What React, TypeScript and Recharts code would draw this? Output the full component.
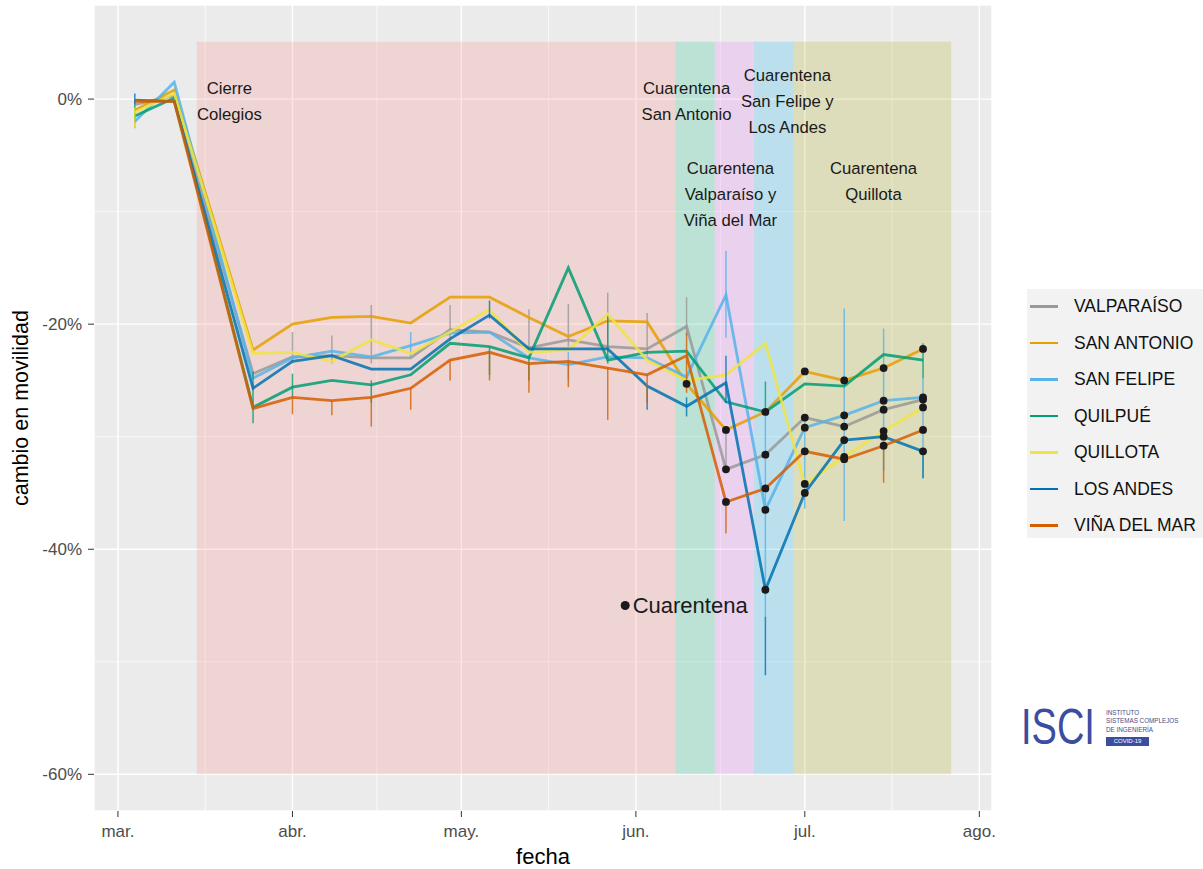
import React from "react";
import {
  ComposedChart,
  Line,
  XAxis,
  YAxis,
  CartesianGrid,
  ReferenceArea,
  ReferenceDot,
  ErrorBar,
} from "recharts";

// days are counted from 1 March 2020
const DAY0 = Date.UTC(2020, 2, 1);
const toDay = (iso: string) => (Date.parse(iso) - DAY0) / 86400000;

const weeks = [
  "2020-03-04", "2020-03-11", "2020-03-18", "2020-03-25", "2020-04-01",
  "2020-04-08", "2020-04-15", "2020-04-22", "2020-04-29", "2020-05-06",
  "2020-05-13", "2020-05-20", "2020-05-27", "2020-06-03", "2020-06-10",
  "2020-06-17", "2020-06-24", "2020-07-01", "2020-07-08", "2020-07-15",
  "2020-07-22",
];

const monthTicks = ["2020-03-01", "2020-04-01", "2020-05-01", "2020-06-01", "2020-07-01", "2020-08-01"];
const monthLabels = ["mar.", "abr.", "may.", "jun.", "jul.", "ago."];
const pctTicks = [0, -20, -40, -60];
const pctMinor = [-10, -30, -50];

type Range = [number, number] | null;
const _ = null;

const valparaiso = [-0.5, 0.3, _, -24.4, -22.9, -22.8, -23.0, -23.0, -20.5, -20.7, -22.1, -21.4, -22.0, -22.2, -20.2, -32.9, -31.6, -28.3, -29.1, -27.6, -26.7];
const sanAntonio = [-1.0, 0.8, _, -22.3, -20.0, -19.4, -19.3, -19.9, -17.6, -17.6, -19.4, -21.1, -19.7, -19.8, -25.3, -29.4, -27.8, -24.2, -25.0, -23.9, -22.2];
const sanFelipe = [-2.0, 1.5, _, -24.8, -23.0, -22.4, -22.9, -21.9, -20.8, -20.7, -23.0, -23.6, -22.9, -23.0, -24.7, -17.4, -36.5, -29.2, -28.1, -26.8, -26.5];
const quilpue = [-1.5, 0.1, _, -27.4, -25.6, -25.0, -25.4, -24.5, -21.7, -22.0, -23.0, -15.0, -23.2, -22.5, -22.4, -26.9, -27.8, -25.3, -25.5, -22.7, -23.2];
const quillota = [-1.2, 0.5, _, -22.6, -22.5, -23.3, -21.4, -22.6, -20.7, -18.7, -22.5, -22.3, -19.1, -23.2, -25.0, -24.5, -21.7, -34.2, -31.8, -29.5, -27.4];
const losAndes = [-0.1, -0.2, _, -25.7, -23.3, -22.8, -24.0, -24.0, -21.3, -19.2, -22.2, -22.2, -22.2, -25.5, -27.3, -25.2, -43.6, -35.0, -30.3, -30.0, -31.3];
const vinaDelMar = [-0.2, -0.2, _, -27.5, -26.5, -26.8, -26.5, -25.7, -23.2, -22.5, -23.5, -23.3, -23.9, -24.5, -22.8, -35.8, -34.6, -31.3, -32.0, -30.8, -29.4];

// weekly min / max (vertical ranges)
const valparaisoRange: Range[] = [_, _, _, _, [-23.5, -20.7], [-23.5, -21.0], [-23.5, -18.3], _, [-21.5, -18.3], _, [-22.5, -18.7], [-22.0, -18.2], [-22.5, -17.2], [-22.8, -19.0], [-21.0, -17.6], [-33.0, -29.5], _, _, _, _, _];
const sanAntonioRange: Range[] = [[-2.6, -1.0], _, _, _, _, _, _, _, _, _, _, _, _, _, _, _, _, _, _, _, _];
const sanFelipeRange: Range[] = [_, _, _, _, _, _, _, [-23.0, -20.7], _, _, _, [-25.0, -22.5], _, _, _, [-21.2, -13.5], [-46.0, -28.0], [-36.4, -28.5], [-37.5, -18.6], [-33.0, -20.4], [-33.7, -24.8]];
const quilpueRange: Range[] = [[-2.1, -0.1], _, _, [-28.8, -24.2], [-26.5, -24.4], _, [-27.0, -25.0], _, _, [-24.5, -22.0], [-25.0, -22.8], _, [-23.5, -19.2], _, _, _, [-28.0, -25.1], _, _, _, [-24.8, -21.7]];
const quillotaRange: Range[] = [[-2.5, -0.8], _, _, _, _, _, _, _, _, _, _, _, _, _, _, _, _, _, _, _, _];
const losAndesRange: Range[] = [[-0.4, 0.5], _, _, _, _, _, _, _, _, [-19.5, -17.9], _, _, _, [-27.6, -25.5], [-28.2, -26.5], [-27.0, -22.8], [-51.2, -46.0], _, _, _, [-33.7, -31.3]];
const vinaDelMarRange: Range[] = [_, _, _, _, [-28.0, -26.5], [-28.1, -26.8], [-29.1, -26.5], [-27.6, -25.7], [-25.0, -23.2], [-25.0, -22.5], [-26.1, -23.5], [-25.6, -23.3], [-28.5, -23.9], [-27.0, -24.5], [-26.1, -20.8], [-38.6, -35.8], _, _, _, [-34.1, -30.8], _];

const seriesNames = ["VALPARAÍSO", "SAN ANTONIO", "SAN FELIPE", "QUILPUÉ", "QUILLOTA", "LOS ANDES", "VIÑA DEL MAR"];
const seriesColors = ["#999999", "#E69F00", "#56B4E9", "#009E73", "#F0E442", "#0072B2", "#D55E00"];
// first week drawn with the black "Cuarentena" marker
const quarantineFrom = ["2020-06-17", "2020-06-10", "2020-06-24", null, "2020-07-01", "2020-06-24", "2020-06-17"];

const periodStart = ["2020-03-15", "2020-06-08", "2020-06-15", "2020-06-22", "2020-06-29"];
const periodEnd = ["2020-06-08", "2020-06-15", "2020-06-22", "2020-06-29", "2020-07-27"];
const periodFill = ["#F8766D", "#00BF7D", "#E76BF3", "#00B0F6", "#A3A500"];
const periodTop = 5.1;
const periodBottom = -60;

const notes = [
  { day: 19.8, y: -0.25, lines: ["Cierre", "Colegios"] },
  { day: 101.0, y: -0.25, lines: ["Cuarentena", "San Antonio"] },
  { day: 118.9, y: -0.2, lines: ["Cuarentena", "San Felipe y", "Los Andes"] },
  { day: 108.8, y: -8.5, lines: ["Cuarentena", "Valparaíso y", "Viña del Mar"] },
  { day: 134.2, y: -7.3, lines: ["Cuarentena", "Quillota"] },
];
const markerKey = { day: 90.1, y: -45, text: "Cuarentena" };

const values = [valparaiso, sanAntonio, sanFelipe, quilpue, quillota, losAndes, vinaDelMar];
const ranges = [valparaisoRange, sanAntonioRange, sanFelipeRange, quilpueRange, quillotaRange, losAndesRange, vinaDelMarRange];

const series = seriesNames.map((name, i) => ({
  key: "s" + i,
  name,
  color: seriesColors[i],
  from: quarantineFrom[i] ? toDay(quarantineFrom[i] as string) : null,
}));

const rows = weeks.map((w, i) => {
  const row: Record<string, any> = { day: toDay(w) };
  series.forEach((s, j) => {
    const v = values[j][i];
    const r = ranges[j][i];
    row[s.key] = v;
    row[s.key + "err"] = r && v != null ? [v - r[0], r[1] - v] : null;
  });
  return row;
});

const xMajor = monthTicks.map(toDay);
const xMinor = xMajor.slice(1).map((d, i) => (d + xMajor[i]) / 2);

const FONT = '"Liberation Sans", Arial, sans-serif';

const quarantineDot = (key: string, from: number) => (p: any) => {
  const { cx, cy, payload, index } = p;
  if (cy == null || payload == null || payload.day < from) return <g key={key + index} />;
  return <circle key={key + index} cx={cx} cy={cy} r={3.9} fill="#1b191b" />;
};

function NoteLabel({ viewBox, lines }: any) {
  const cx = viewBox.x + viewBox.width / 2;
  const cy = viewBox.y + viewBox.height / 2;
  return (
    <text textAnchor="middle" fontSize={16.7} fill="#1a1a1a" fontFamily={FONT}>
      {lines.map((l: string, j: number) => (
        <tspan key={j} x={cx} y={cy + (j - (lines.length - 1) / 2) * 26} dominantBaseline="central">
          {l}
        </tspan>
      ))}
    </text>
  );
}

export default function App() {
  return (
    <div style={{ position: "absolute", left: 0, top: 0, width: 1203, height: 869, background: "#fff", fontFamily: FONT, overflow: "hidden" }}>
      <ComposedChart width={1203} height={869} data={rows} margin={{ top: 5, right: 211, bottom: 0, left: 10 }}>
        <CartesianGrid fill="#EBEBEB" stroke="#FFFFFF" strokeWidth={1.4} />
        <CartesianGrid fill="none" stroke="#FFFFFF" strokeWidth={0.7} horizontalValues={pctMinor} verticalValues={xMinor} />
        <XAxis
          type="number"
          dataKey="day"
          domain={[-4.25, 155.25]}
          allowDataOverflow
          ticks={xMajor}
          tickFormatter={(d: number) => monthLabels[xMajor.indexOf(d)] ?? ""}
          axisLine={false}
          tickLine={{ stroke: "#333333" }}
          tickSize={6}
          tickMargin={8}
          height={58}
          tick={{ fill: "#4D4D4D", fontSize: 17 }}
          label={(p: any) => {
            const vb = p.viewBox;
            return (
              <text x={vb.x + vb.width / 2} y={vb.y + vb.height - 5} textAnchor="middle" fontSize={22} fill="#000">
                fecha
              </text>
            );
          }}
        />
        <YAxis
          type="number"
          domain={[-63.26, 8.36]}
          allowDataOverflow
          ticks={pctTicks}
          tickFormatter={(v: number) => `${v}%`}
          axisLine={false}
          tickLine={{ stroke: "#333333" }}
          tickSize={6}
          tickMargin={6}
          width={84}
          tick={{ fill: "#4D4D4D", fontSize: 17 }}
          label={(p: any) => {
            const vb = p.viewBox;
            const x = 28;
            const y = vb.y + vb.height / 2;
            return (
              <text x={x} y={y} transform={`rotate(-90 ${x} ${y})`} textAnchor="middle" fontSize={21.5} fill="#000">
                cambio en movilidad
              </text>
            );
          }}
        />
        {periodStart.map((s, i) => (
          <ReferenceArea
            key={"p" + i}
            x1={toDay(s)}
            x2={toDay(periodEnd[i])}
            y1={periodBottom}
            y2={periodTop}
            fill={periodFill[i]}
            fillOpacity={0.2}
            stroke="none"
          />
        ))}
        {series.map((s) => (
          <Line
            key={s.key}
            type="linear"
            dataKey={s.key}
            name={s.name}
            stroke={s.color}
            strokeWidth={2.8}
            strokeOpacity={0.85}
            dot={false}
            activeDot={false}
            connectNulls
            isAnimationActive={false}
          >
            <ErrorBar
              dataKey={s.key + "err"}
              width={0}
              stroke={s.color}
              strokeWidth={1.5}
              strokeOpacity={0.8}
              direction="y"
              isAnimationActive={false}
            />
          </Line>
        ))}
        {series
          .filter((s) => s.from != null)
          .map((s) => (
            <Line
              key={s.key + "q"}
              type="linear"
              dataKey={s.key}
              stroke="none"
              dot={quarantineDot(s.key, s.from as number)}
              activeDot={false}
              legendType="none"
              connectNulls
              isAnimationActive={false}
            />
          ))}
        {notes.map((n, i) => (
          <ReferenceDot
            key={"n" + i}
            x={n.day}
            y={n.y}
            r={0}
            fill="none"
            stroke="none"
            label={(p: any) => <NoteLabel viewBox={p.viewBox} lines={n.lines} />}
          />
        ))}
        <ReferenceDot
          x={markerKey.day}
          y={markerKey.y}
          r={4.5}
          fill="#1b191b"
          stroke="none"
          label={(p: any) => {
            const vb = p.viewBox;
            return (
              <text x={vb.x + vb.width + 3} y={vb.y + vb.height / 2} dominantBaseline="central" fontSize={22} fill="#1a1a1a">
                {markerKey.text}
              </text>
            );
          }}
        />
      </ComposedChart>

      <div style={{ position: "absolute", left: 1027, top: 289, width: 190, height: 249, background: "#F2F2F2" }}>
        {series.map((s, i) => (
          <div key={s.key} style={{ position: "absolute", left: 0, top: 17 + i * 36.5 - 12, height: 24, width: 190 }}>
            <div style={{ position: "absolute", left: 3, top: 11, width: 28, height: 2.6, background: s.color }} />
            <div style={{ position: "absolute", left: 47, top: 0, lineHeight: "24px", fontSize: 17.5, color: "#111", whiteSpace: "nowrap" }}>
              {s.name}
            </div>
          </div>
        ))}
      </div>

      {/* ISCI logo */}
      <div style={{ position: "absolute", left: 1021, top: 703, width: 110, height: 48 }}>
        <div style={{ display: "inline-block", fontSize: 50, lineHeight: "48px", color: "#3B4DA1", transform: "scaleX(0.76)", transformOrigin: "0 0", whiteSpace: "nowrap" }}>
          ISCI
        </div>
      </div>
      <div style={{ position: "absolute", left: 1106, top: 709, width: 96, color: "#3F4C8E", fontSize: 6.3, lineHeight: "8.3px", whiteSpace: "nowrap" }}>
        <div>INSTITUTO</div>
        <div>SISTEMAS COMPLEJOS</div>
        <div>DE INGENIERÍA</div>
        <div style={{ marginTop: 3, width: 43, height: 9, background: "#3B4DA1", color: "#fff", textAlign: "center", lineHeight: "9px", fontSize: 6 }}>
          COVID-19
        </div>
      </div>
    </div>
  );
}
